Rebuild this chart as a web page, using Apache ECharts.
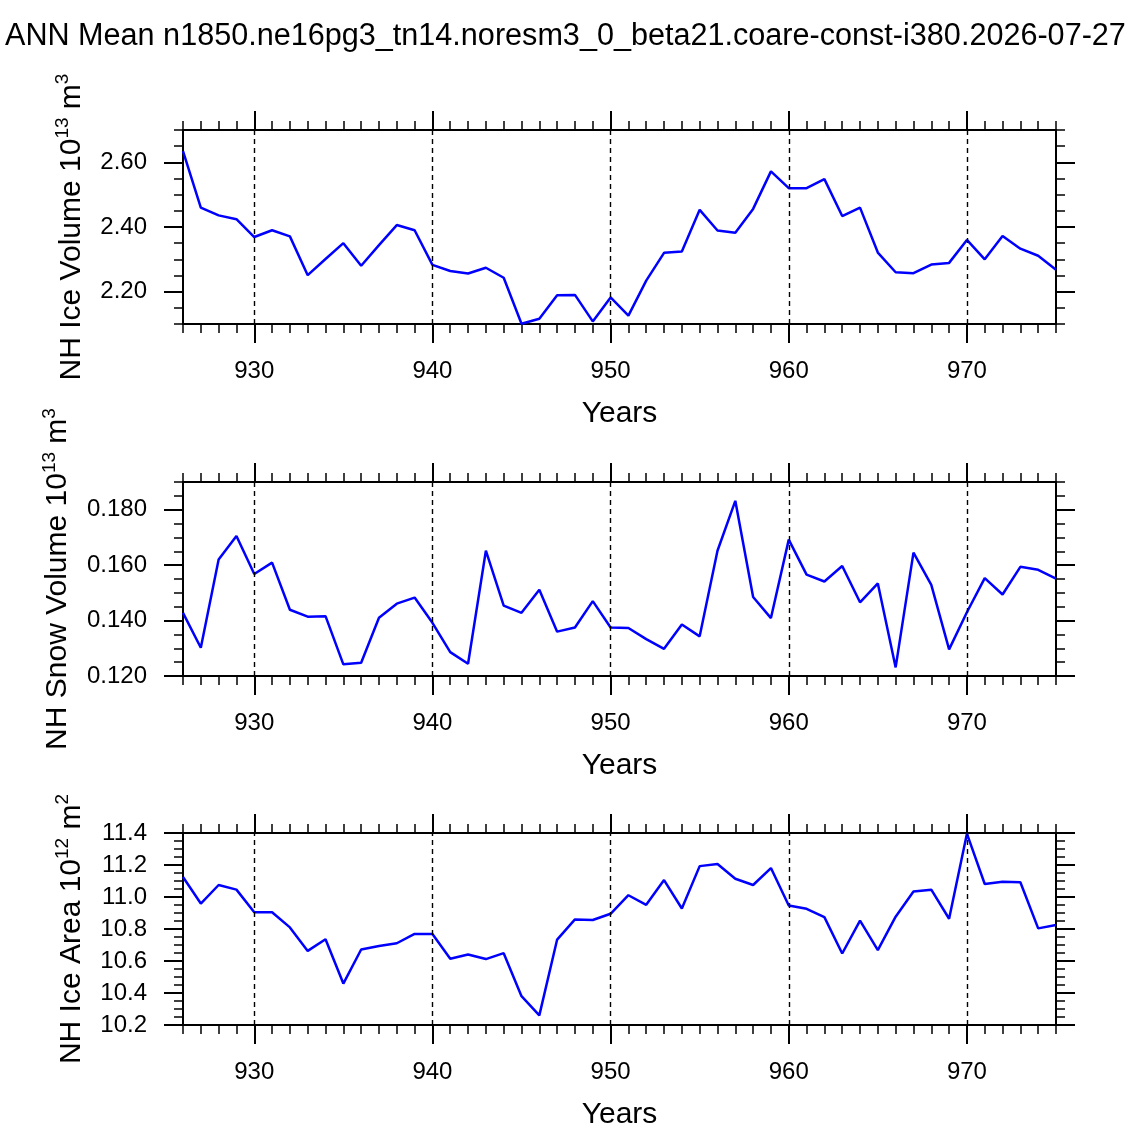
<!DOCTYPE html>
<html><head><meta charset="utf-8">
<script src="https://cdn.jsdelivr.net/npm/echarts@6/dist/echarts.min.js"></script>
<style>html,body{margin:0;padding:0;background:#fff}#c{width:1129px;height:1131px}</style>
</head><body><div id="c"></div><script>
const titleText = 'ANN Mean n1850.ne16pg3_tn14.noresm3_0_beta21.coare-const-i380.2026-07-27';
const years = [926,927,928,929,930,931,932,933,934,935,936,937,938,939,940,941,942,943,944,945,946,947,948,949,950,
  951,952,953,954,955,956,957,958,959,960,961,962,963,964,965,966,967,968,969,970,971,972,973,974,975];
const iceVolume = [2.635,2.460,2.436,2.424,2.369,2.390,2.371,2.251,2.301,2.350,2.280,2.344,2.406,2.390,2.283,2.264,2.256,2.274,2.243,2.101,2.116,2.189,2.190,2.108,2.182,
  2.126,2.234,2.320,2.324,2.453,2.389,2.382,2.456,2.572,2.520,2.520,2.548,2.434,2.460,2.321,2.260,2.257,2.284,2.289,2.360,2.300,2.372,2.333,2.311,2.268];
const snowVolume = [0.1428,0.1302,0.1620,0.1705,0.1568,0.1609,0.1439,0.1414,0.1416,0.1242,0.1248,0.1410,0.1461,0.1483,0.1392,0.1286,0.1244,0.1652,0.1454,0.1428,0.1511,0.1360,0.1375,0.1470,0.1375,
  0.1373,0.1333,0.1298,0.1386,0.1343,0.1652,0.1832,0.1485,0.1409,0.1692,0.1566,0.1541,0.1597,0.1466,0.1534,0.1231,0.1645,0.1529,0.1296,0.1430,0.1553,0.1494,0.1594,0.1583,0.1551];
const iceArea = [11.125,10.959,11.075,11.046,10.905,10.905,10.810,10.663,10.736,10.459,10.672,10.694,10.711,10.769,10.769,10.614,10.641,10.612,10.649,10.380,10.260,10.734,10.860,10.856,10.895,
  11.011,10.951,11.106,10.928,11.193,11.206,11.114,11.075,11.181,10.947,10.926,10.874,10.647,10.852,10.668,10.877,11.034,11.046,10.864,11.396,11.081,11.096,11.092,10.804,10.825];
const majorYears = [930,940,950,960,970];
const iceVolumeTicks = [2.2,2.4,2.6];
const snowVolumeTicks = [0.12,0.14,0.16,0.18];
const iceAreaTicks = [10.2,10.4,10.6,10.8,11.0,11.2,11.4];
const xLabel = 'Years';

const FONT = '"Liberation Sans", Arial, Helvetica, sans-serif';
const panels = [
  {top:130, values:iceVolume, min:2.1, max:2.7, step:0.05, ticks:iceVolumeTicks, dec:2, name:'NH Ice Volume 10{s|13} m{s|3}', gap:92},
  {top:482, values:snowVolume, min:0.12, max:0.19, step:0.005, ticks:snowVolumeTicks, dec:3, name:'NH Snow Volume 10{s|13} m{s|3}', gap:107},
  {top:833, values:iceArea, min:10.2, max:11.4, step:0.05, ticks:iceAreaTicks, dec:1, name:'NH Ice Area 10{s|12} m{s|2}', gap:92}
];
const black = '#000';
const grid = [], xAxis = [], yAxis = [], series = [];
panels.forEach((p, i) => {
  grid.push({left:183, right:73, top:p.top, height:194});
  const xBase = {gridIndex:i, type:'value', min:926, max:975, splitLine:{show:false}};
  ['bottom','top'].forEach(pos => {
    xAxis.push(Object.assign({}, xBase, {position:pos, interval:1,
      axisLine:{show:true, onZero:false, lineStyle:{color:black, width:2}},
      axisTick:{show:true, length:9, lineStyle:{color:black, width:1.5}},
      axisLabel:{show:false}}));
    xAxis.push(Object.assign({}, xBase, {position:pos,
      axisLine:{show:false, onZero:false},
      axisTick:{show:true, customValues:majorYears, length:19, lineStyle:{color:black, width:2}},
      axisLabel:{show:pos==='bottom', customValues:majorYears, margin:35, fontSize:24, color:black, fontFamily:FONT},
      name: pos==='bottom' ? xLabel : '', nameLocation:'middle', nameGap:75,
      nameTextStyle:{fontSize:30, color:black, fontFamily:FONT}}));
  });
  const yBase = {gridIndex:i, type:'value', min:p.min, max:p.max, splitLine:{show:false}};
  ['left','right'].forEach(pos => {
    yAxis.push(Object.assign({}, yBase, {position:pos, interval:p.step,
      axisLine:{show:true, onZero:false, lineStyle:{color:black, width:2}},
      axisTick:{show:true, length:9, lineStyle:{color:black, width:1.5}},
      axisLabel:{show:false}}));
    yAxis.push(Object.assign({}, yBase, {position:pos,
      axisLine:{show:false, onZero:false},
      axisTick:{show:true, customValues:p.ticks, length:19, lineStyle:{color:black, width:2}},
      axisLabel:{show:pos==='left', customValues:p.ticks, margin:36, fontSize:24, color:black, fontFamily:FONT,
        formatter: v => Number(v).toFixed(p.dec)},
      name: pos==='left' ? p.name : '', nameLocation:'middle', nameGap:p.gap,
      nameTextStyle:{fontSize:30, lineHeight:36, color:black, fontFamily:FONT,
        rich:{s:{fontSize:19, lineHeight:14, verticalAlign:'top', color:black, fontFamily:FONT}}}}));
  });
  series.push({type:'line', xAxisIndex:4*i, yAxisIndex:4*i, showSymbol:false, silent:true,
    data: years.map((y, k) => [y, p.values[k]]),
    lineStyle:{color:'#0000ff', width:2.5}, itemStyle:{color:'#0000ff'},
    markLine:{silent:true, symbol:['none','none'], label:{show:false},
      lineStyle:{color:black, type:[5,4], width:1.4},
      data: majorYears.map(v => ({xAxis:v}))}});
});
const chart = echarts.init(document.getElementById('c'), null, {renderer:'canvas'});
chart.setOption({
  animation:false, backgroundColor:'#fff',
  title:{text:titleText, left:5, top:21, padding:0, textStyle:{fontSize:30.6, fontWeight:'normal', color:black, fontFamily:FONT}},
  grid, xAxis, yAxis, series
});
</script></body></html>
